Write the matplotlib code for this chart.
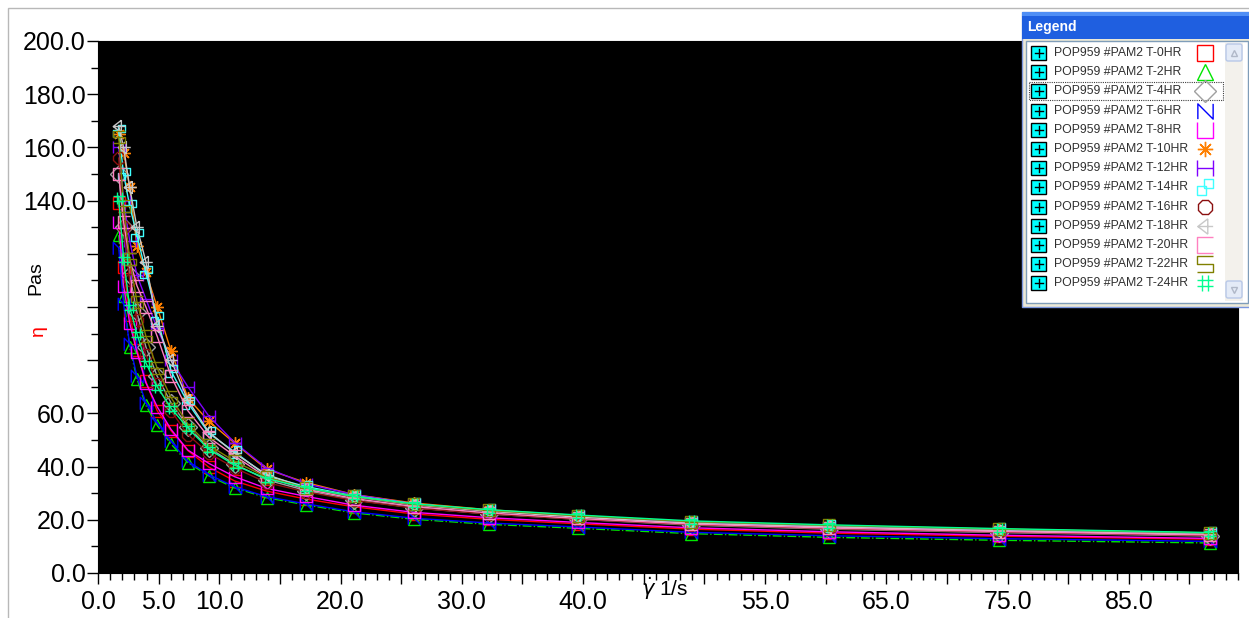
import matplotlib.pyplot as plt
from matplotlib.patches import Rectangle, FancyBboxPatch
from matplotlib.path import Path
import matplotlib.ticker as mticker

plt.rcParams['font.family'] = ['Liberation Sans', 'DejaVu Sans']

# shear rate (1/s), shared by all runs
shear_rate = [1.71, 2.11, 2.61, 3.21, 3.95, 4.88, 6.02, 7.41, 9.14, 11.27,
              13.9, 17.15, 21.1, 26.05, 32.2, 39.6, 48.9, 60.3, 74.3, 91.7]

# viscosity (Pa.s) per sample time
eta_t0 = [139, 115, 97, 84, 72, 61, 53.5, 46, 39.8, 34.6, 30.8, 27.8, 24.9, 22.2, 20.2, 18.5, 16.5, 15.0, 13.8, 12.7]
eta_t2 = [127, 104, 85, 73, 63, 55.5, 48.5, 41.5, 36.5, 32, 28.3, 25.6, 22.6, 20.2, 18.3, 16.8, 14.8, 13.4, 12.3, 11.3]
eta_t4 = [150, 130, 112, 98, 85, 74, 64, 55, 47, 41, 35, 31, 27.5, 24.5, 22.2, 20.2, 18.0, 16.5, 15.2, 13.9]
eta_t6 = [122, 101, 86, 74, 64, 56.5, 49.5, 42, 37, 32.4, 28.7, 26, 23, 20.6, 18.8, 17.3, 15.3, 14.0, 12.9, 11.9]
eta_t8 = [132, 108, 94, 83, 71.5, 62.5, 54, 46.2, 41.2, 36.2, 31.8, 28.8, 25.5, 22.8, 20.8, 19.0, 17.0, 15.5, 14.2, 13.0]
eta_t10 = [165, 158, 145, 123, 113, 100, 83.5, 65.8, 57, 48.8, 39, 34, 29.5, 26.3, 23.8, 21.6, 19.2, 17.7, 16.3, 14.8]
eta_t12 = [160, 140, 125, 112, 103, 92, 80, 70, 59, 49, 39.5, 33.5, 29.5, 26, 23.5, 21.3, 18.9, 17.4, 16.0, 14.5]
eta_t14 = [166, 150, 138, 127, 113, 96, 76, 64, 52.5, 45.5, 36.5, 32.5, 29, 26, 23.5, 21.5, 19.3, 17.8, 16.4, 15.0]
eta_t16 = [156, 130, 110, 95, 82, 71, 61, 52, 45, 39.5, 34, 30.5, 27.3, 24.4, 22.2, 20.2, 18.2, 16.7, 15.4, 14.1]
eta_t18 = [168, 160, 145, 130, 117, 93, 80, 65, 53, 45, 37, 32, 28.7, 25.6, 23.2, 21.0, 18.7, 17.3, 15.9, 14.5]
eta_t20 = [150, 132, 118, 108, 100, 89, 74, 61, 51, 44, 36, 31.5, 28, 25, 22.6, 20.5, 18.4, 16.9, 15.6, 14.3]
eta_t22 = [164, 138, 118, 102, 89, 77, 66, 56, 48, 42, 36, 32, 28.8, 25.8, 23.5, 21.5, 19.3, 17.9, 16.5, 15.1]
eta_t24 = [141, 118, 100, 90, 79, 70, 62, 54.5, 46.5, 40.5, 35.5, 32, 28.8, 26, 23.8, 21.8, 19.6, 18.1, 16.7, 15.2]

series = [eta_t0, eta_t2, eta_t4, eta_t6, eta_t8, eta_t10, eta_t12,
          eta_t14, eta_t16, eta_t18, eta_t20, eta_t22, eta_t24]
labels = ['POP959 #PAM2 T-%dHR' % h for h in range(0, 26, 2)]
colors = ['#ff0000', '#00e600', '#a0a0a0', '#0000ff', '#ff00ff', '#ff8000', '#8000ff',
          '#40ffff', '#8b1010', '#c8c8c8', '#ff80c0', '#808000', '#00ff90']
styles = ['-', '-.', '-', '-', '-', '-', '-', '-', '-', '-', '-', '-', '-']

x_ticks = list(range(0, 95, 5))
x_tick_labels = {0: '0.0', 5: '5.0', 10: '10.0', 20: '20.0', 30: '30.0', 40: '40.0',
                 55: '55.0', 65: '65.0', 75: '75.0', 85: '85.0'}
y_ticks = list(range(0, 201, 20))
y_hidden = [80, 100, 120]


def shape(segs):
    verts, codes = [], []
    for seg in segs:
        for i, p in enumerate(seg):
            verts.append(p)
            codes.append(Path.MOVETO if i == 0 else Path.LINETO)
    return Path(verts, codes)


markers = [
    's', '^', 'D',
    shape([[(-1, -1), (-1, 1), (1, -1), (1, 1)]]),
    shape([[(-1, 1), (-1, -1), (1, -1), (1, 1)]]),
    (8, 2, 0),
    shape([[(-1, -1), (-1, 1)], [(1, -1), (1, 1)], [(-1, 0), (1, 0)]]),
    shape([[(-1, -1), (0.15, -1), (0.15, 0.15), (-1, 0.15), (-1, -1)],
           [(-0.15, -0.15), (1, -0.15), (1, 1), (-0.15, 1), (-0.15, -0.15)]]),
    '8',
    shape([[(0.3, 1), (-1, 0), (1, 0)], [(0.3, 1), (0.3, -1)], [(-1, 0), (0.3, -1)]]),
    shape([[(1, 1), (-1, 1), (-1, -1), (1, -1)]]),
    shape([[(1, 1), (-1, 1), (-1, 0), (1, 0), (1, -1), (-1, -1)]]),
    shape([[(-0.4, -1), (-0.4, 1)], [(0.4, -1), (0.4, 1)], [(-1, 0.4), (1, 0.4)], [(-1, -0.4), (1, -0.4)]]),
]

W, H = 1249, 618
fig = plt.figure(figsize=(W / 100, H / 100), dpi=100, facecolor='white')

# window frame line
fig.patches.append(Rectangle((8 / W, -0.1), 1.2, (H - 8) / H + 0.1, transform=fig.transFigure,
                             fill=False, edgecolor='#b8b8b8', linewidth=1))

ax = fig.add_axes([98 / W, (H - 573) / H, (1238 - 98) / W, (573 - 41) / H])
ax.set_facecolor('black')

for y, c, m, ls in zip(series, colors, markers, styles):
    ax.plot(shear_rate, y, color=c, linestyle=ls, linewidth=1, marker=m, markersize=9,
            markerfacecolor='none', markeredgecolor=c, markeredgewidth=1)

ax.set_xlim(0, 94.0)
ax.set_ylim(0, 200)
ax.set_xticks(x_ticks)
ax.set_xticklabels([x_tick_labels.get(t, '') for t in x_ticks])
ax.xaxis.set_minor_locator(mticker.MultipleLocator(1))
ax.set_yticks(y_ticks)
ax.set_yticklabels(['' if t in y_hidden else '%.1f' % t for t in y_ticks])
ax.yaxis.set_minor_locator(mticker.MultipleLocator(10))
ax.tick_params(axis='both', which='major', length=8, width=1, labelsize=18)
ax.tick_params(axis='both', which='minor', length=5, width=1)
ax.tick_params(axis='x', pad=4)
ax.tick_params(axis='y', pad=1)
for s in ax.spines.values():
    s.set_color('black')

fig.text(36 / W, 1 - 278 / H, 'Pas', rotation=90, ha='center', va='center', fontsize=14)
fig.text(38 / W, 1 - 331 / H, '\u03b7', rotation=90, ha='center', va='center', fontsize=14, color='red')
fig.text(641 / W, 1 - 589 / H, r'$\dot{\gamma}$ 1/s', ha='left', va='center', fontsize=15)

# legend window
lg = fig.add_axes([1020 / W, (H - 310) / H, 229 / W, 300 / H])
lg.set_xlim(1020, 1249)
lg.set_ylim(310, 10)
lg.axis('off')
lg.add_patch(Rectangle((1022, 12), 230, 295, facecolor='#ece9d8', edgecolor='#7a96df', linewidth=1))
lg.add_patch(Rectangle((1022, 12), 230, 27, facecolor='#1f5fe0', edgecolor='#1f5fe0', linewidth=0))
lg.add_patch(Rectangle((1022, 12), 230, 4, facecolor='#4f8ef5', edgecolor='none'))
lg.text(1027, 27, 'Legend', color='white', fontsize=10, fontweight='bold', va='center', ha='left')
lg.add_patch(Rectangle((1026, 41), 222, 262, facecolor='white', edgecolor='#7f9db9', linewidth=1))
# scrollbar
lg.add_patch(Rectangle((1225, 43), 18, 258, facecolor='#f3f1ec', edgecolor='none'))
for yb, sym in [(44, '^'), (281, 'v')]:
    lg.add_patch(FancyBboxPatch((1226, yb), 16, 17, boxstyle='round,pad=0,rounding_size=2',
                                facecolor='#e4ebf7', edgecolor='#b8c8e8', linewidth=1))
    lg.plot([1234], [yb + 8.5], marker=sym, markersize=5, color='#b0b8c8', markerfacecolor='none')

row_y0, row_dy = 53, 19.2
for i, (lab, c, m) in enumerate(zip(labels, colors, markers)):
    ry = row_y0 + i * row_dy
    lg.add_patch(Rectangle((1031, ry - 7), 15, 14, facecolor='#00ffff', edgecolor='black', linewidth=1))
    lg.plot([1034.5, 1042.5], [ry, ry], color='black', linewidth=1)
    lg.plot([1038.5, 1038.5], [ry - 4, ry + 4], color='black', linewidth=1)
    lg.text(1054, ry, lab, fontsize=8.8, color='#303030', va='center', ha='left')
    lg.plot([1205], [ry], marker=m, markersize=11, markerfacecolor='none',
            markeredgecolor=c, markeredgewidth=1, linestyle='none')
    if i == 2:
        lg.add_patch(Rectangle((1029, ry - 9), 194, 18, fill=False, edgecolor='#404040',
                               linewidth=0.8, linestyle=(0, (1, 1))))

fig.savefig('out.png', dpi=100, facecolor='white')
